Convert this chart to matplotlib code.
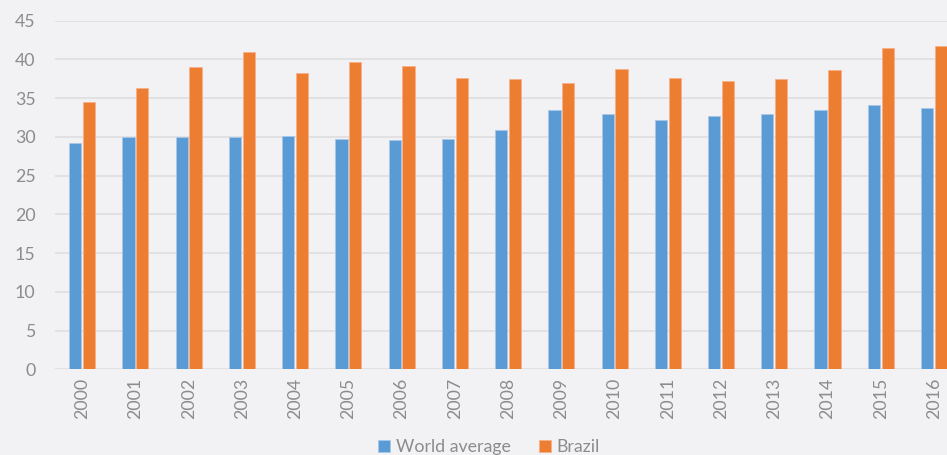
import matplotlib
matplotlib.use("Agg")
import matplotlib.pyplot as plt
import numpy as np

years = [str(y) for y in range(2000, 2017)]
world_average = [29.2, 30.0, 30.0, 30.0, 30.15, 29.75, 29.55, 29.75, 30.9, 33.45,
                 32.9, 32.1, 32.7, 32.9, 33.45, 34.05, 33.7]
brazil = [34.45, 36.3, 39.0, 40.9, 38.2, 39.7, 39.1, 37.6, 37.4, 37.0,
          38.75, 37.6, 37.2, 37.4, 38.6, 41.5, 41.7]
y_ticks = list(range(0, 50, 5))

bg = "#f2f2f4"
blue = "#5b9bd5"
orange = "#ed7d31"
tick_color = "#8c8c8c"

plt.rcParams['font.family'] = ['Lato', 'DejaVu Sans']

fig = plt.figure(figsize=(9.47, 4.55), dpi=100, facecolor=bg)
ax = fig.add_axes([55/947, 1 - 369.3/455, 1 - 55/947 + 0.02, (369.3 - 20.5)/455])
ax.set_facecolor(bg)

x = np.arange(len(years))
w = 0.23
ax.bar(x - 0.13, world_average, width=w, color=blue, edgecolor="#a9c8e8", linewidth=0.6,
       label="World average", zorder=3)
ax.bar(x + 0.13, brazil, width=w, color=orange, edgecolor="#f5b08a", linewidth=0.6,
       label="Brazil", zorder=3)

ax.set_ylim(0, 45)
ax.set_xlim(-0.51, 16.6)
ax.set_yticks(y_ticks)
ax.yaxis.grid(True, color="#e0e0e2", linewidth=1.3, zorder=0)
ax.set_axisbelow(True)
for s in ax.spines.values():
    s.set_visible(False)
ax.tick_params(axis='both', length=0, colors=tick_color, labelsize=12.8)
ax.tick_params(axis='y', pad=14)
ax.set_xticks(x)
ax.set_xticklabels(years, rotation=90)
ax.tick_params(axis='x', pad=6)

fig.legend(loc='center', bbox_to_anchor=(489/947, 1 - 447/455), ncol=2, frameon=False,
           fontsize=12.8, labelcolor=tick_color, handlelength=0.7, handleheight=0.7,
           handletextpad=0.3, columnspacing=1.6)

fig.savefig("out.png", dpi=100, facecolor=bg)
